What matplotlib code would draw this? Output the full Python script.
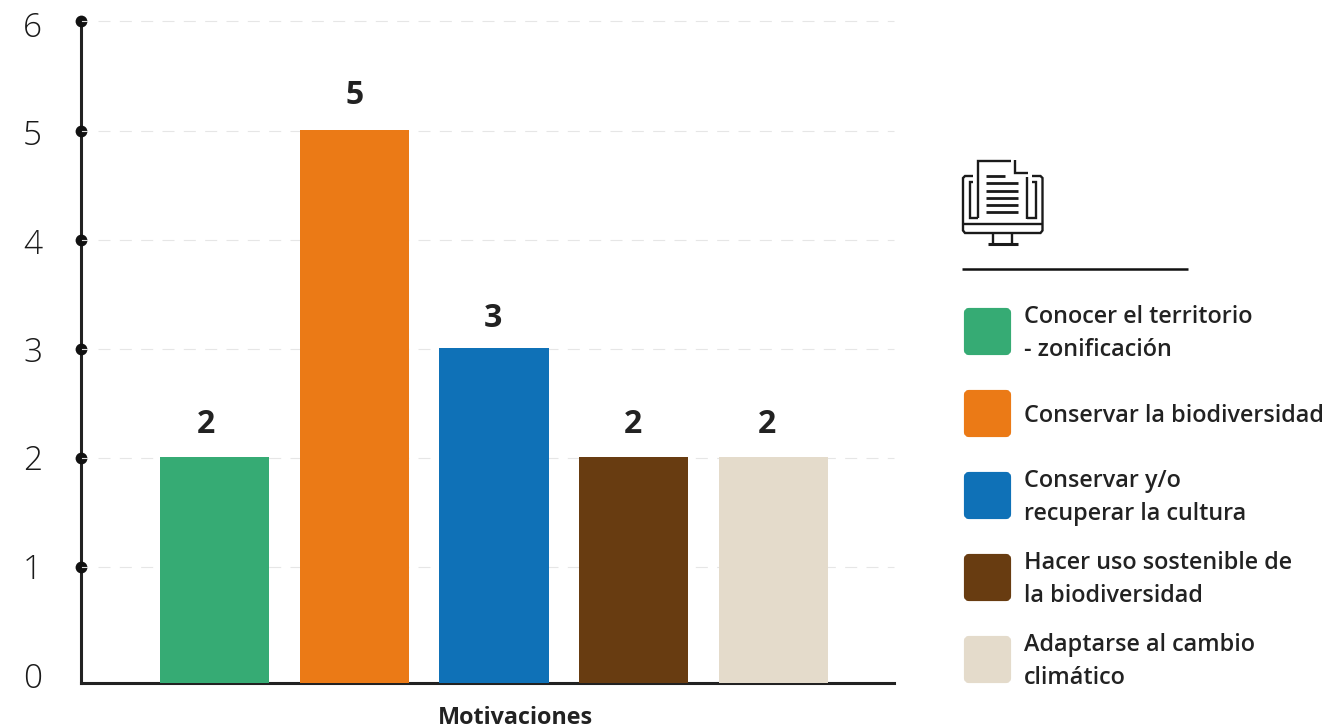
import matplotlib
matplotlib.use("Agg")
import matplotlib.pyplot as plt
from matplotlib.patches import FancyBboxPatch
from matplotlib.transforms import Affine2D

plt.rcParams['font.family'] = ['Open Sans', 'DejaVu Sans']

categories = ["Conocer el territorio\n- zonificación", "Conservar la biodiversidad",
              "Conservar y/o\nrecuperar la cultura", "Hacer uso sostenible de\nla biodiversidad",
              "Adaptarse al cambio\nclimático"]
values = [2, 5, 3, 2, 2]
colors = ["#36AB74", "#EB7A16", "#0F71B7", "#683C11", "#E4DBCB"]
y_ticks = [0, 1, 2, 3, 4, 5, 6]
xlabel = "Motivaciones"
INK = "#222222"
W, H = 1329, 728

fig = plt.figure(figsize=(W / 100, H / 100), dpi=100, facecolor="white")
L, R, B, T = 81, 894, 682.5, 21.5
ax = fig.add_axes([L / W, 1 - B / H, (R - L) / W, (B - T) / H])

# The reference's axis line sits slightly below its zero tick
ybot = -0.055
xleft, xright = -0.955, 4.862
xs = list(range(len(values)))
ax.bar(xs, [v - ybot + 0.008 for v in values], bottom=ybot, width=0.78, color=colors, zorder=3)
ax.set_xlim(xleft, xright)
ax.set_ylim(ybot, 6)
label_shift = [(-9, 17), (0, 19), (-1, 14), (-1, 17), (-7, 17)]
for x, v, (dx, dy) in zip(xs, values, label_shift):
    ax.annotate(str(v), (x, v), xytext=(dx, dy), textcoords="offset pixels",
                ha="center", va="bottom", fontsize=23, fontweight="bold", color=INK, zorder=4)

for s in ("top", "right"):
    ax.spines[s].set_visible(False)
for s in ("left", "bottom"):
    ax.spines[s].set_linewidth(2.2)
    ax.spines[s].set_color(INK)
ax.set_xticks([])
ax.set_yticks(y_ticks)
ax.tick_params(axis="y", length=0, pad=28, labelsize=24, labelcolor="#1a1a1a")
label_dy = [1, 1, 1, 0, -1, -2, -3]
for t, d in zip(ax.get_yticklabels(), label_dy):
    t.set_fontweight("light")
    t.set_verticalalignment("center_baseline")
    t.set_transform(t.get_transform() + Affine2D().translate(0, d))
px = 1 / 139.75
for y in y_ticks[1:]:
    ax.plot([xleft + 17 * px, xright], [y, y], color="#E6E6E6", lw=0.8, dashes=(10.8, 8.4), zorder=1, clip_on=False)
    ax.plot([xleft], [y], marker="o", ms=8.5, color="#111111", mew=0, zorder=5, clip_on=False)
    ax.plot([xleft + 1 * px, xleft + 6 * px], [y, y], color="#DDDDDD", lw=0.8, zorder=6, clip_on=False)
ax.set_xlabel(xlabel, fontsize=16.8, fontweight="bold", color=INK, labelpad=17, x=(515 - L) / (R - L))

# overlay in pixel coordinates for legend and icon
ov = fig.add_axes([0, 0, 1, 1], facecolor="none")
ov.set_xlim(0, W)
ov.set_ylim(H, 0)
ov.axis("off")

swatch_tops = [308, 390, 472, 554, 636]
for top, c, label in zip(swatch_tops, colors, categories):
    ov.add_patch(FancyBboxPatch((966, top + 2), 43, 43, boxstyle="round,pad=0,rounding_size=3",
                                mutation_aspect=1, fc=c, ec=c, lw=3))
    ov.text(1024, top + 25.5, label, fontsize=16.8, fontweight="semibold", color=INK,
            va="center", ha="left", linespacing=1.49)

ov.plot([962, 1188], [268.5, 268.5], color="#111111", lw=1.8, solid_capstyle="butt")

def ln(xs_, ys_, lw=1.7):
    ov.plot(xs_, ys_, color="#1a1a1a", lw=lw, solid_capstyle="butt", solid_joinstyle="miter")

# document
ln([978, 978, 1011], [218, 160.7, 160.7])
ln([1015, 1015, 1028], [160, 172.5, 172.5])
ln([1027, 1027], [177, 218.5])
for y, x1 in zip([176, 183, 190.5, 197.5, 205, 212], [1005, 1018, 1018, 1018, 1018, 1018]):
    ln([986, x1], [y, y], 2.0)
# monitor
ln([973, 965, 963, 963, 965, 1040.5, 1042.5, 1042.5, 1040.5, 1032],
   [176, 176, 178, 230.5, 233, 233, 230.5, 178, 176, 176])
ln([973, 969.5, 969.5, 978], [182, 182, 218, 218])
ln([1027, 1036, 1036, 1032], [218, 218, 182, 182])
ln([963, 1042.5], [224, 224])
ln([993, 993], [233, 243])
ln([1012, 1012], [233, 243])
ln([988, 1018], [244, 244], 2.2)

fig.savefig("out.png", dpi=100)
